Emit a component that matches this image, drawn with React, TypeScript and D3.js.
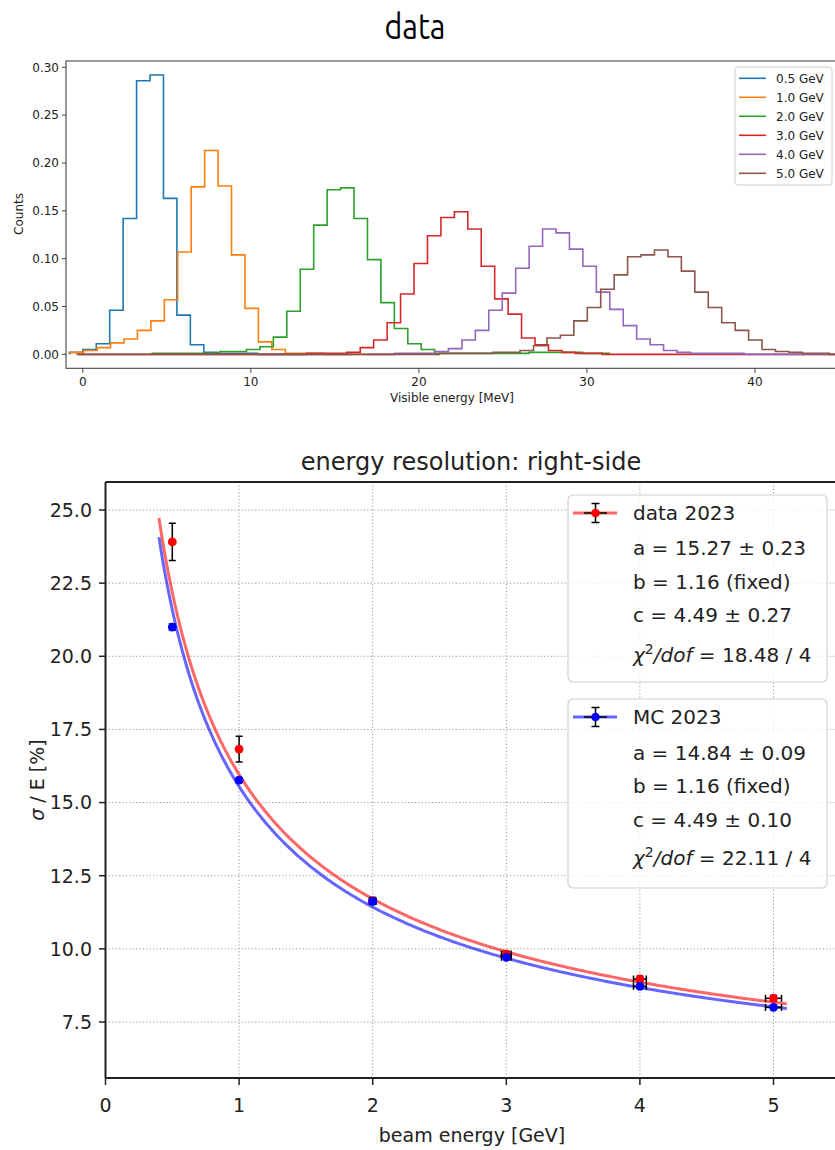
import * as d3 from 'd3'

// top panel: visible energy spectra, step histograms
const BIN_W = 0.8
const beamLabels = ['0.5 GeV', '1.0 GeV', '2.0 GeV', '3.0 GeV', '4.0 GeV', '5.0 GeV']
const beamColors = ['#1f77b4', '#ff7f0e', '#2ca02c', '#d62728', '#9467bd', '#8c564b']
// left edge of the first bin of every histogram [MeV]
const binStarts = [-0.8, -0.75, 4.14, -0.29, 16.96, -0.38]

const counts05 = [0.002, 0.005, 0.011, 0.046, 0.142, 0.286, 0.292, 0.163, 0.041, 0.010, 0.002,
  0.001, 0.001, 0.001, 0, 0, 0, 0, 0, 0, 0]
const counts10 = [0.002, 0.004, 0.007, 0.012, 0.016, 0.025, 0.035, 0.057, 0.107, 0.175, 0.213,
  0.176, 0.104, 0.048, 0.013, 0.005, 0.001, 0.001, 0.001, 0, 0, 0, 0, 0]
const counts20 = [0.001, 0.001, 0.001, 0.001, 0.001, 0.003, 0.003, 0.005, 0.008, 0.018, 0.045,
  0.089, 0.135, 0.172, 0.174, 0.142, 0.099, 0.054, 0.027, 0.011, 0.005, 0.001, 0.001, 0.001,
  0.001, 0.001, 0.001, 0.001, 0.002, 0.002, 0.002, 0.002, 0.001, 0.001]
const counts30 = [0, 0, 0, 0, 0, 0, 0, 0, 0, 0, 0, 0, 0, 0, 0, 0, 0, 0.001, 0.001, 0.001,
  0.002, 0.007, 0.015, 0.033, 0.063, 0.095, 0.124, 0.143, 0.149, 0.131, 0.092, 0.058, 0.042,
  0.017, 0.010, 0.004, 0.002, 0.001, 0.001, 0, 0, 0, 0, 0, 0, 0, 0, 0, 0, 0, 0, 0, 0, 0, 0, 0, 0]
const counts40 = [0, 0, 0.001, 0.001, 0.001, 0.003, 0.006, 0.015, 0.025, 0.046, 0.064, 0.090,
  0.113, 0.131, 0.127, 0.110, 0.092, 0.065, 0.047, 0.030, 0.016, 0.010, 0.004, 0.002, 0.001,
  0.001, 0.001, 0.001, 0, 0, 0, 0, 0, 0, 0]
const counts50 = [0, 0, 0, 0, 0, 0, 0, 0, 0, 0, 0, 0, 0, 0, 0, 0, 0, 0, 0, 0, 0, 0, 0, 0, 0, 0,
  0, 0.001, 0.001, 0.001, 0.001, 0.002, 0.002, 0.004, 0.009, 0.017, 0.020, 0.035, 0.049, 0.068,
  0.083, 0.102, 0.104, 0.109, 0.102, 0.087, 0.065, 0.049, 0.033, 0.025, 0.015, 0.005, 0.003,
  0.002, 0.001, 0.001, 0]
const histCounts = [counts05, counts10, counts20, counts30, counts40, counts50]
const histXTicks = [0, 10, 20, 30, 40]
const histYTicks = [0, 0.05, 0.1, 0.15, 0.2, 0.25, 0.3]

// bottom panel: energy resolution vs beam energy
const beamEnergy = [0.5, 1, 2, 3, 4, 5]
const energyErr = [0.006, 0.012, 0.024, 0.036, 0.048, 0.06]
const dataRes = [23.91, 16.83, 11.64, 9.82, 8.97, 8.31]
const dataResErr = [0.64, 0.44, 0.12, 0.1, 0.1, 0.1]
const mcRes = [21.0, 15.77, 11.62, 9.71, 8.72, 8.0]
const mcResErr = [0.1, 0.08, 0.06, 0.05, 0.05, 0.05]
const fitNames = ['data 2023', 'MC 2023']
const fitA = [15.27, 14.84]
const fitB = [1.16, 1.16]
const fitC = [4.49, 4.49]
const fitAErr = ['0.23', '0.09']
const fitCErr = ['0.27', '0.10']
const fitChi2 = ['18.48', '22.11']
const fitDof = [4, 4]
const resXTicks = [0, 1, 2, 3, 4, 5]
const resYTicks = [7.5, 10, 12.5, 15, 17.5, 20, 22.5, 25]

const FONT = "'DejaVu Sans', Verdana, sans-serif"

export default function App() {
  const W = 835
  const H = 1150

  // ---- top panel scales
  const hx = d3.scaleLinear().domain([-1, 45]).range([66, 839])
  const hy = d3.scaleLinear().domain([-0.0146, 0.3066]).range([368.3, 61])
  const histLine = d3.line<[number, number]>().x(d => hx(d[0])).y(d => hy(d[1]))
  const histPath = (start: number, vals: number[]) => {
    const pts: [number, number][] = [[start, 0]]
    vals.forEach((v, i) => {
      pts.push([start + i * BIN_W, v])
      pts.push([start + (i + 1) * BIN_W, v])
    })
    pts.push([start + vals.length * BIN_W, 0])
    return histLine(pts) || ''
  }

  // ---- bottom panel scales
  const rx = d3.scaleLinear().domain([0, 5.5]).range([105.5, 840.3])
  const ry = d3.scaleLinear().domain([5.586, 25.957]).range([1078, 482])
  const fitLine = d3.line<[number, number]>().x(d => rx(d[0])).y(d => ry(d[1]))
  const fitPath = (k: number) => {
    const pts: [number, number][] = d3.range(0.4, 5.1001, 0.02).map(e => [
      e,
      Math.sqrt((fitA[k] / Math.sqrt(e)) ** 2 + (fitB[k] / e) ** 2 + fitC[k] ** 2),
    ])
    return fitLine(pts) || ''
  }
  const fitStroke = ['rgba(255,0,0,0.6)', 'rgba(0,0,255,0.6)']
  const markerFill = ['#ff0000', '#0000ff']

  const errorBars = (ys: number[], errs: number[], k: number) =>
    beamEnergy.map((e, i) => {
      const cx = rx(e)
      const cy = ry(ys[i])
      const x0 = rx(e - energyErr[i])
      const x1 = rx(e + energyErr[i])
      const y0 = ry(ys[i] - errs[i])
      const y1 = ry(ys[i] + errs[i])
      return (
        <g key={`eb${k}-${i}`} stroke="#000" strokeWidth={1.5}>
          <line x1={x0} x2={x1} y1={cy} y2={cy} />
          <line x1={x0} x2={x0} y1={cy - 3.5} y2={cy + 3.5} />
          <line x1={x1} x2={x1} y1={cy - 3.5} y2={cy + 3.5} />
          <line x1={cx} x2={cx} y1={y0} y2={y1} />
          <line x1={cx - 3.5} x2={cx + 3.5} y1={y0} y2={y0} />
          <line x1={cx - 3.5} x2={cx + 3.5} y1={y1} y2={y1} />
          <circle cx={cx} cy={cy} r={4.4} fill={markerFill[k]} stroke="none" />
        </g>
      )
    })

  const legendBoxes = [
    { y: 495, h: 187, rows: [513, 548, 582, 615, 655] },
    { y: 699, h: 189, rows: [717, 753, 786, 820, 858] },
  ]

  return (
    <div style={{ position: 'absolute', left: 0, top: 0 }}>
      <svg width={W} height={H} style={{ display: 'block', background: '#fff' }} fontFamily={FONT}>
        <defs>
          <clipPath id="histClip">
            <rect x={66} y={61} width={773} height={307.3} />
          </clipPath>
          <clipPath id="resClip">
            <rect x={105.5} y={482} width={735} height={596} />
          </clipPath>
        </defs>

        {/* ================= top panel ================= */}
        <text x={415} y={39} textAnchor="middle" fontSize={36} textLength={61} lengthAdjust="spacingAndGlyphs"
          fontFamily="Ubuntu, 'Liberation Sans Narrow', 'DejaVu Sans Condensed', 'Open Sans', sans-serif" fill="#000">
          data
        </text>

        <g clipPath="url(#histClip)">
          {histCounts.map((vals, k) => (
            <path key={k} d={histPath(binStarts[k], vals)} fill="none" stroke={beamColors[k]} strokeWidth={1.6} strokeLinejoin="miter" />
          ))}
        </g>

        <rect x={66} y={61} width={773} height={307.3} fill="none" stroke="#444" strokeWidth={1.1} />

        {histYTicks.map(t => (
          <g key={t}>
            <line x1={62} x2={66} y1={hy(t)} y2={hy(t)} stroke="#444" strokeWidth={1} />
            <text x={59} y={hy(t)} dy="0.35em" textAnchor="end" fontSize={12} fill="#222">{t.toFixed(2)}</text>
          </g>
        ))}
        {histXTicks.map(t => (
          <g key={t}>
            <line x1={hx(t)} x2={hx(t)} y1={368.3} y2={373} stroke="#444" strokeWidth={1} />
            <text x={hx(t)} y={386} textAnchor="middle" fontSize={12} fill="#222">{t}</text>
          </g>
        ))}
        <text x={452} y={402} textAnchor="middle" fontSize={12} fill="#222">Visible energy [MeV]</text>
        <text transform="translate(23,214) rotate(-90)" textAnchor="middle" fontSize={12} fill="#222">Counts</text>

        <rect x={735} y={67} width={97} height={118} rx={3} fill="#fff" fillOpacity={0.8} stroke="#d0d0d0" strokeWidth={1} />
        {beamLabels.map((lab, k) => {
          const y = 78.3 + 19 * k
          return (
            <g key={lab}>
              <line x1={739} x2={766} y1={y} y2={y} stroke={beamColors[k]} strokeWidth={1.6} />
              <text x={776} y={y} dy="0.35em" fontSize={12} fill="#222">{lab}</text>
            </g>
          )
        })}

        {/* ================= bottom panel ================= */}
        <text x={471} y={470} textAnchor="middle" fontSize={24} fill="#222">energy resolution: right-side</text>

        {/* grid */}
        <g stroke="#999" strokeWidth={1} strokeDasharray="1.2,2.2">
          {resXTicks.filter(t => t > 0).map(t => (
            <line key={`gx${t}`} x1={rx(t)} x2={rx(t)} y1={482} y2={1078} />
          ))}
          {resYTicks.map(t => (
            <line key={`gy${t}`} x1={105.5} x2={835} y1={ry(t)} y2={ry(t)} />
          ))}
        </g>

        <g clipPath="url(#resClip)">
          <path d={fitPath(0)} fill="none" stroke={fitStroke[0]} strokeWidth={3} />
          <path d={fitPath(1)} fill="none" stroke={fitStroke[1]} strokeWidth={3} />
          {errorBars(dataRes, dataResErr, 0)}
          {errorBars(mcRes, mcResErr, 1)}
        </g>

        {/* legends */}
        {legendBoxes.map((b, k) => (
          <g key={`lg${k}`}>
            <rect x={568} y={b.y} width={259} height={b.h} rx={5} fill="#fff" fillOpacity={0.8} stroke="#d0d0d0" strokeWidth={1.2} />
            <line x1={573} x2={617} y1={b.rows[0]} y2={b.rows[0]} stroke={fitStroke[k]} strokeWidth={3} />
            <line x1={584} x2={607} y1={b.rows[0]} y2={b.rows[0]} stroke="#000" strokeWidth={1.5} />
            <line x1={595.5} x2={595.5} y1={b.rows[0] - 9.5} y2={b.rows[0] + 9.5} stroke="#000" strokeWidth={1.5} />
            <line x1={591.5} x2={599.5} y1={b.rows[0] - 9.5} y2={b.rows[0] - 9.5} stroke="#000" strokeWidth={1.5} />
            <line x1={591.5} x2={599.5} y1={b.rows[0] + 9.5} y2={b.rows[0] + 9.5} stroke="#000" strokeWidth={1.5} />
            <circle cx={595.5} cy={b.rows[0]} r={4.3} fill={markerFill[k]} />
            <g fontSize={20} fill="#222">
              <text x={633} y={b.rows[0]} dy="0.36em">{fitNames[k]}</text>
              <text x={633} y={b.rows[1]} dy="0.36em">{`a = ${fitA[k].toFixed(2)} ± ${fitAErr[k]}`}</text>
              <text x={633} y={b.rows[2]} dy="0.36em">{`b = ${fitB[k].toFixed(2)} (fixed)`}</text>
              <text x={633} y={b.rows[3]} dy="0.36em">{`c = ${fitC[k].toFixed(2)} ± ${fitCErr[k]}`}</text>
              <text x={633} y={b.rows[4]} dy="0.36em">
                <tspan fontStyle="italic">χ</tspan>
                <tspan fontSize={14} dy={-8}>2</tspan>
                <tspan fontStyle="italic" dy={8}>/dof</tspan>
                <tspan>{` = ${fitChi2[k]} / ${fitDof[k]}`}</tspan>
              </text>
            </g>
          </g>
        ))}

        {/* frame */}
        <line x1={105.5} x2={835} y1={482} y2={482} stroke="#222" strokeWidth={2} />
        <line x1={105.5} x2={835} y1={1078} y2={1078} stroke="#222" strokeWidth={2} />
        <line x1={105.5} x2={105.5} y1={482} y2={1078} stroke="#222" strokeWidth={2} />

        {resYTicks.map(t => (
          <g key={`ty${t}`}>
            <line x1={99} x2={105.5} y1={ry(t)} y2={ry(t)} stroke="#222" strokeWidth={1.5} />
            <text x={92} y={ry(t)} dy="0.36em" textAnchor="end" fontSize={19} fill="#222">{t.toFixed(1)}</text>
          </g>
        ))}
        {resXTicks.map(t => (
          <g key={`tx${t}`}>
            <line x1={rx(t)} x2={rx(t)} y1={1078} y2={1085} stroke="#222" strokeWidth={1.5} />
            <text x={rx(t)} y={1105} dy="0.36em" textAnchor="middle" fontSize={19} fill="#222">{t}</text>
          </g>
        ))}
        <text x={472} y={1135} dy="0.36em" textAnchor="middle" fontSize={19} fill="#222">beam energy [GeV]</text>
        <text transform="translate(37,780) rotate(-90)" textAnchor="middle" dy="0.36em" fontSize={19} fill="#222">
          <tspan fontStyle="italic">σ</tspan>
          <tspan> / E [%]</tspan>
        </text>
      </svg>
    </div>
  )
}
